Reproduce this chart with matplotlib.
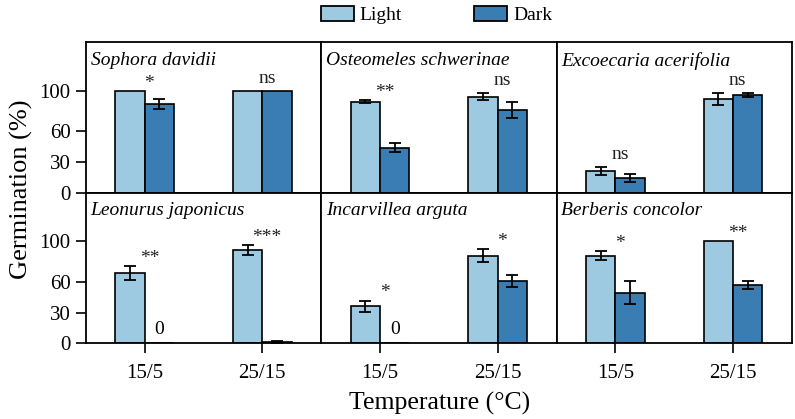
import numpy as np
import matplotlib
matplotlib.use("Agg")
import matplotlib.pyplot as plt
from matplotlib.patches import Patch

plt.rcParams['font.family'] = ['Liberation Serif', 'DejaVu Serif']

# ---------------------------------------------------------------------------
# Datos (germinación %, media y error)
# ---------------------------------------------------------------------------
species = ['Sophora davidii', 'Osteomeles schwerinae', 'Excoecaria acerifolia',
           'Leonurus japonicus', 'Incarvillea arguta', 'Berberis concolor']
temps = ['15/5', '25/15']

light_mean = [[100, 100], [89.3, 94.2], [21.4, 91.6],
              [68.6, 91.4], [36.4, 85.8], [86.1, 100]]
light_err = [[0, 0], [1.3, 3.5], [4.0, 6.0],
             [6.8, 5.0], [5.5, 6.3], [4.6, 0]]
dark_mean = [[87.0, 100], [43.9, 81.2], [14.6, 95.8],
             [0, 1.5], [0, 61.2], [49.7, 57.3]]
dark_err = [[4.5, 0], [4.4, 7.5], [3.9, 2.3],
            [0, 1.0], [0, 5.8], [11.3, 4.2]]
signif = [['*', 'ns'], ['**', 'ns'], ['ns', 'ns'],
          ['**', '***'], ['*', '*'], ['*', '**']]

c_light = '#9ecae1'
c_dark = '#3a7db3'
w = 0.25

fig, axes = plt.subplots(2, 3, figsize=(7.95, 4.19), dpi=100, sharex=True, sharey=True)
fig.subplots_adjust(left=0.108, right=0.996, top=0.9, bottom=0.181, wspace=0, hspace=0)

x = np.arange(len(temps))

for k, ax in enumerate(axes.flat):
    lm = np.array(light_mean[k], float)
    le = np.array(light_err[k], float)
    dm = np.array(dark_mean[k], float)
    de = np.array(dark_err[k], float)

    ax.bar(x - w / 2, lm, w, color=c_light, edgecolor='k', linewidth=1.2, zorder=2)
    ax.bar(x + w / 2, dm, w, color=c_dark, edgecolor='k', linewidth=1.2, zorder=2)

    # barras de error solo donde hay error
    for xs, m, e in ((x - w / 2, lm, le), (x + w / 2, dm, de)):
        sel = e > 0
        if sel.any():
            ax.errorbar(xs[sel], m[sel], yerr=e[sel], fmt='none', ecolor='k',
                        elinewidth=1.3, capsize=4, capthick=1.3, zorder=3)

    # etiquetas de significancia
    for i in range(len(temps)):
        top = max(lm[i] + le[i], dm[i] + de[i])
        lab = signif[k][i]
        pad = 3 if '*' in lab else 8
        ax.text(x[i] + 0.04, top + pad, lab, ha='center', va='baseline',
                fontsize=14, color='#222222')
        if dm[i] == 0:
            ax.text(x[i] + w / 2, 9, '0', ha='center', va='baseline', fontsize=14)

    ax.text(0.02, 0.935, species[k], transform=ax.transAxes, style='italic',
            fontsize=14, va='top', ha='left')

    for s in ax.spines.values():
        s.set_linewidth(1.3)
    ax.tick_params(direction='out', length=7, width=1.2, labelsize=15, pad=4)

ax0 = axes[0, 0]
ax0.set_xlim(-0.5, 1.5)
ax0.set_ylim(0, 148)
ax0.set_yticks([0, 30, 60, 100])
ax0.set_xticks(x)
ax0.set_xticklabels(temps)

for ax in axes[0]:
    ax.tick_params(axis='x', bottom=False, labelbottom=False)
for ax in axes[:, 1:].flat:
    ax.tick_params(axis='y', left=False, labelleft=False)
for ax in axes[1]:
    ax.tick_params(axis='x', pad=8)

fig.text(0.553, 0.038, 'Temperature (\u00b0C)', ha='center', va='center', fontsize=18.5)
fig.text(0.027, 0.548, 'Germination (%)', ha='center', va='center', rotation=90, fontsize=19)

handles = [Patch(facecolor=c_light, edgecolor='k', linewidth=1.3),
           Patch(facecolor=c_dark, edgecolor='k', linewidth=1.3)]
fig.legend(handles, ['Light', 'Dark'], loc='center', bbox_to_anchor=(0.549, 0.964),
           ncol=2, frameon=False, fontsize=14, handlelength=1.7, handleheight=0.85,
           handletextpad=0.3, columnspacing=3.7)

fig.savefig('out.png', dpi=100)
